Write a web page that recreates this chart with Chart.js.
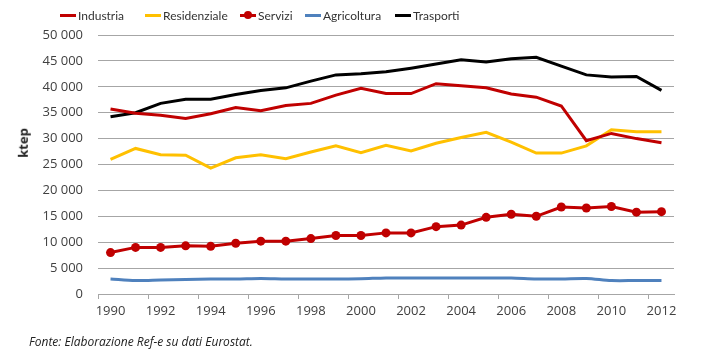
<!DOCTYPE html>
<html>
<head>
<meta charset="utf-8">
<script src="https://cdn.jsdelivr.net/npm/chart.js"></script>
<style>
  body { margin: 0; background: #fff; }
  #wrap { position: relative; width: 706px; height: 361px; }
  #legend { position: absolute; top: 6px; left: 0; width: 706px; height: 18px; font: 12px Lato, "Liberation Sans", sans-serif; color: #333; }
  .item { position: absolute; top: 0; display: flex; align-items: center; height: 18px; white-space: nowrap; }
  .swatch { position: relative; width: 16px; height: 3px; margin-right: 2px; }
  .dot { position: absolute; left: 4px; top: -3px; width: 8px; height: 8px; border-radius: 50%; }
  #ytitle { position: absolute; left: 8px; top: 134px; transform: rotate(-90deg); font: bold 13px "Open Sans", sans-serif; color: #222; }
  #source { position: absolute; left: 29px; top: 333px; font: italic 12px "Open Sans", sans-serif; color: #222; }
</style>
</head>
<body>
<div id="wrap">
  <canvas id="chart" width="706" height="361"></canvas>
  <div id="legend"></div>
  <div id="ytitle">ktep</div>
  <div id="source">Fonte: Elaborazione Ref-e su dati Eurostat.</div>
</div>
<script>
// Consumi finali di energia per settore (ktep)
const years = ['1990','1991','1992','1993','1994','1995','1996','1997','1998','1999','2000','2001',
  '2002','2003','2004','2005','2006','2007','2008','2009','2010','2011','2012'];

const industria = [35700, 34900, 34500, 33900, 34800, 36000, 35400, 36400, 36800, 38400, 39700, 38700,
  38700, 40600, 40200, 39800, 38600, 38000, 36300, 29600, 31000, 30000, 29200];
const residenziale = [26000, 28100, 26900, 26800, 24300, 26300, 26900, 26100, 27400, 28600, 27300, 28700,
  27600, 29100, 30200, 31200, 29300, 27200, 27200, 28600, 31700, 31300, 31300];
const servizi = [8000, 9000, 9000, 9300, 9200, 9800, 10200, 10200, 10700, 11300, 11300, 11800,
  11800, 13000, 13300, 14800, 15400, 15000, 16800, 16600, 16900, 15800, 15900];
const agricoltura = [2900, 2600, 2700, 2800, 2900, 2900, 3000, 2900, 2900, 2900, 2950, 3100,
  3100, 3100, 3100, 3100, 3100, 2900, 2900, 3000, 2600, 2600, 2600];
const trasporti = [34200, 35000, 36800, 37600, 37600, 38500, 39300, 39800, 41100, 42300, 42500, 42900,
  43600, 44400, 45200, 44800, 45400, 45700, 44000, 42300, 41900, 42000, 39300];

const yTicks = [0, 5000, 10000, 15000, 20000, 25000, 30000, 35000, 40000, 45000, 50000];

const seriesList = [
  { label: 'Industria', data: industria, color: '#C00000', marker: false },
  { label: 'Residenziale', data: residenziale, color: '#FFC000', marker: false },
  { label: 'Servizi', data: servizi, color: '#C00000', marker: true },
  { label: 'Agricoltura', data: agricoltura, color: '#4F81BD', marker: false },
  { label: 'Trasporti', data: trasporti, color: '#000000', marker: false }
];

const fmt = v => String(v).replace(/\B(?=(\d{3})+(?!\d))/g, ' ');

const datasets = seriesList.map(s => ({
  label: s.label,
  data: s.data,
  borderColor: s.color,
  backgroundColor: s.color,
  borderWidth: 3,
  pointRadius: s.marker ? 4.5 : 0,
  pointBorderWidth: 0,
  pointHoverRadius: s.marker ? 4.5 : 0,
  tension: s.label === 'Agricoltura' ? 0.3 : 0,
  fill: false
}));

// legenda html, posizione di partenza di ogni voce
const legendEl = document.getElementById('legend');
const legendLeft = [60, 145, 240, 305, 395];
seriesList.forEach((s, i) => {
  const item = document.createElement('div');
  item.className = 'item';
  item.style.left = legendLeft[i] + 'px';
  const sw = document.createElement('span');
  sw.className = 'swatch';
  sw.style.background = s.color;
  if (s.marker) {
    const d = document.createElement('span');
    d.className = 'dot';
    d.style.background = s.color;
    sw.appendChild(d);
  }
  item.appendChild(sw);
  item.appendChild(document.createTextNode(s.label));
  legendEl.appendChild(item);
});

new Chart(document.getElementById('chart'), {
  type: 'line',
  data: { labels: years, datasets: datasets },
  options: {
    responsive: false,
    animation: false,
    layout: { padding: { top: 35, left: 0, right: 32, bottom: 37 } },
    plugins: { legend: { display: false }, tooltip: { enabled: false } },
    scales: {
      x: {
        offset: true,
        grid: {
          offset: true,
          drawOnChartArea: false,
          drawTicks: true,
          tickLength: 5,
          color: ctx => (ctx.index % 2 === 0 ? '#A6A6A6' : 'rgba(0,0,0,0)')
        },
        border: { color: '#A6A6A6', width: 1 },
        ticks: {
          autoSkip: false,
          maxRotation: 0,
          padding: 4,
          color: '#404040',
          font: { family: 'Open Sans', size: 13 },
          callback: function (value, index) { return index % 2 === 0 ? this.getLabelForValue(value) : ''; }
        },
        afterFit: scale => { scale.height = 30; }
      },
      y: {
        min: 0,
        max: 50000,
        afterBuildTicks: scale => { scale.ticks = yTicks.map(v => ({ value: v })); },
        grid: { color: '#A6A6A6', drawTicks: false },
        border: { display: false },
        ticks: {
          padding: 15,
          color: '#404040',
          font: { family: 'Open Sans', size: 13 },
          callback: v => fmt(v)
        },
        afterFit: scale => { scale.width = 98; }
      }
    }
  }
});
</script>
</body>
</html>
